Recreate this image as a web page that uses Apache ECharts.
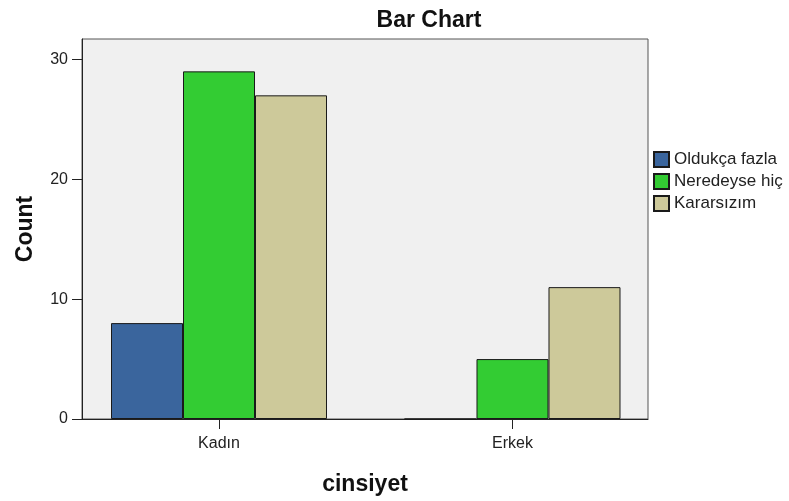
<!DOCTYPE html>
<html>
<head>
<meta charset="utf-8">
<script src="https://cdn.jsdelivr.net/npm/echarts@6/dist/echarts.min.js"></script>
<style>
html,body{margin:0;padding:0;background:#fff;}
#chart{width:789px;height:501px;}
</style>
</head>
<body>
<div id="chart"></div>
<script>
var categories = ['Kadın', 'Erkek'];
var seriesNames = ['Oldukça fazla', 'Neredeyse hiç', 'Kararsızım'];
var oldukcaFazla = [8, 0];
var neredeyseHic = [29, 5];
var kararsizim = [27, 11];
var yTicks = [0, 10, 20, 30];
var colors = ['#3a659d', '#33cc33', '#cdc99a'];

var FONT = '"Liberation Sans", Arial, sans-serif';
var seriesValues = [oldukcaFazla, neredeyseHic, kararsizim];
var catIdx = categories.map(function (c, i) { return i; });

var chart = echarts.init(document.getElementById('chart'), null, {renderer: 'canvas'});
chart.setOption({
  animation: false,
  backgroundColor: '#ffffff',
  textStyle: {fontFamily: FONT},
  title: {
    text: 'Bar Chart',
    left: 424,
    textAlign: 'center',
    top: 4,
    textStyle: {fontFamily: FONT, fontSize: 23, fontWeight: 'bold', color: '#111'}
  },
  legend: {
    orient: 'vertical',
    left: 653,
    top: 151,
    itemWidth: 15,
    itemHeight: 15,
    itemGap: 5,
    icon: 'rect',
    padding: 0,
    textStyle: {fontFamily: FONT, fontSize: 17, lineHeight: 16, color: '#222', padding: [0, 0, 0, 0]},
    data: seriesNames
  },
  grid: {
    left: 82, right: 141, top: 39, bottom: 77,
    show: true,
    backgroundColor: '#f0f0f0',
    borderColor: '#555',
    borderWidth: 1
  },
  xAxis: {
    type: 'value',
    min: -0.4668,
    max: 1.4617,
    name: 'cinsiyet',
    nameLocation: 'middle',
    nameGap: 54,
    nameTextStyle: {fontFamily: FONT, fontSize: 23, fontWeight: 'bold', color: '#111'},
    axisLine: {show: true, onZero: false, lineStyle: {color: '#222', width: 1}},
    axisTick: {show: true, customValues: catIdx, length: 10, inside: false, lineStyle: {color: '#222'}},
    axisLabel: {
      customValues: catIdx,
      formatter: function (v) { return categories[Math.round(v)] || ''; },
      fontFamily: FONT, fontSize: 16, color: '#222', margin: 17
    },
    splitLine: {show: false}
  },
  yAxis: {
    type: 'value',
    min: 0,
    max: 31.7,
    name: 'Count',
    nameLocation: 'middle',
    nameGap: 45,
    nameRotate: 90,
    nameTextStyle: {fontFamily: FONT, fontSize: 23, fontWeight: 'bold', color: '#111'},
    axisLine: {show: true, onZero: false, lineStyle: {color: '#222', width: 1}},
    axisTick: {show: true, customValues: yTicks, length: 10, lineStyle: {color: '#222'}},
    axisLabel: {customValues: yTicks, fontFamily: FONT, fontSize: 16, color: '#222', margin: 14},
    splitLine: {show: false}
  },
  series: seriesNames.map(function (name, s) {
    return {
      name: name,
      type: 'bar',
      barWidth: 72,
      barGap: '0%',
      itemStyle: {color: colors[s], borderColor: '#1a1a1a', borderWidth: 1},
      data: categories.map(function (c, i) { return [i, seriesValues[s][i]]; })
    };
  })
});
</script>
</body>
</html>
